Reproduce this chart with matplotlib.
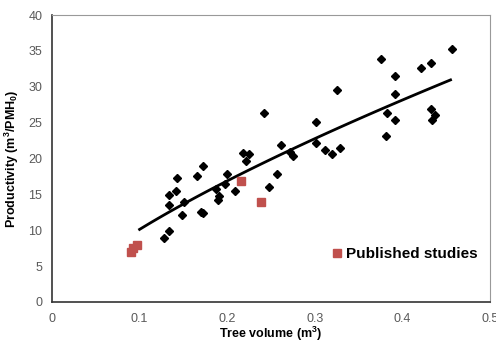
import numpy as np
import matplotlib
matplotlib.use("Agg")
import matplotlib.pyplot as plt

plt.rcParams['font.family'] = ['Liberation Sans', 'DejaVu Sans']
plt.rcParams['mathtext.fontset'] = 'custom'
plt.rcParams['mathtext.rm'] = 'Liberation Sans'
plt.rcParams['mathtext.bf'] = 'Liberation Sans:bold'

# field data (black diamonds)
vol = [0.128, 0.134, 0.1335, 0.1335, 0.142, 0.1426, 0.149, 0.151, 0.1655, 0.170,
       0.1724, 0.172, 0.187, 0.1907, 0.190, 0.197, 0.200, 0.2086, 0.2177, 0.222,
       0.2254, 0.2418, 0.2475, 0.257, 0.2616, 0.2716, 0.2754, 0.301, 0.301, 0.312,
       0.320, 0.3284, 0.3257, 0.3753, 0.381, 0.383, 0.3917, 0.3917, 0.3917, 0.4218,
       0.4325, 0.4325, 0.437, 0.4333, 0.4569]
prod = [8.9, 9.9, 13.5, 14.9, 15.5, 17.3, 12.1, 13.9, 17.6, 12.5,
        12.4, 18.9, 15.8, 14.8, 14.2, 16.5, 17.8, 15.5, 20.8, 19.7,
        20.6, 26.4, 16.0, 17.8, 21.9, 20.9, 20.4, 25.1, 22.2, 21.2,
        20.6, 21.5, 29.5, 33.9, 23.2, 26.3, 31.5, 29.0, 25.3, 32.6,
        33.3, 26.9, 26.0, 25.3, 35.3]

# published studies (red squares)
pub_vol = [0.090, 0.093, 0.097, 0.2162, 0.239]
pub_prod = [7.0, 7.5, 7.9, 16.9, 13.9]

# power trendline fitted to the field data
b, log_a = np.polyfit(np.log(vol), np.log(prod), 1)
xs = np.linspace(0.1, 0.455, 100)
ys = np.exp(log_a) * xs ** b

fig = plt.figure(figsize=(4.96, 3.42), dpi=100)
ax = fig.add_axes([0.1048, 0.117, 0.883, 0.839])

ax.plot(xs, ys, color='black', lw=2)
ax.plot(vol, prod, 'D', color='black', markersize=4.5, ls='none')
ax.plot(pub_vol, pub_prod, 's', color='#c0504d', markersize=6, ls='none',
        label='Published studies')

ax.set_xlim(0, 0.5)
ax.set_ylim(0, 40)
ax.set_xticks([0, 0.1, 0.2, 0.3, 0.4, 0.5])
ax.set_xticklabels(['0', '0.1', '0.2', '0.3', '0.4', '0.5'])
ax.set_yticks(range(0, 41, 5))
ax.tick_params(length=0, labelsize=9, labelcolor='#595959')
ax.tick_params(axis='x', pad=8)
ax.tick_params(axis='y', pad=7)

for s in ['top', 'right']:
    ax.spines[s].set_color('#999999')
for s in ['left', 'bottom']:
    ax.spines[s].set_color('#333333')
    ax.spines[s].set_linewidth(1.2)

ax.set_xlabel(r'Tree volume (m$^\mathbf{3}$)', fontsize=9, fontweight='bold', labelpad=0)
ax.set_ylabel(r'Productivity (m$^\mathbf{3}$/PMH$_\mathbf{0}$)', fontsize=9,
              fontweight='bold', labelpad=5)

ax.legend(loc='lower right', bbox_to_anchor=(1.0, 0.1), frameon=False,
          prop={'weight': 'bold', 'size': 11}, handlelength=0.6, handletextpad=0.3,
          borderaxespad=0.4)

fig.savefig('out.png', dpi=100)
